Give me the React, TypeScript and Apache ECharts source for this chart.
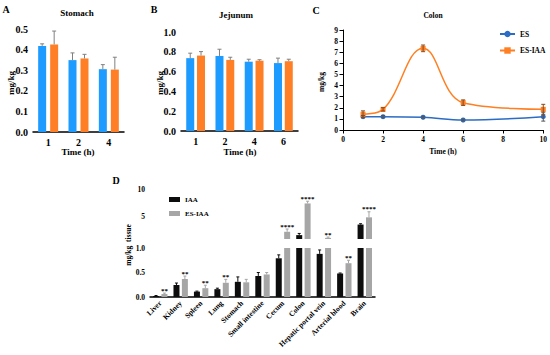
import React, { useEffect, useRef } from "react";
import * as echarts from "echarts";

// ---------- data ----------
const stomachTimes = ["1", "2", "4"];
const stomachES = [0.418, 0.349, 0.305];
const stomachESErr = [0.01, 0.035, 0.022];
const stomachESIAA = [0.425, 0.357, 0.303];
const stomachESIAAErr = [0.065, 0.02, 0.06];

const jejunumTimes = ["1", "2", "4", "6"];
const jejunumES = [0.736, 0.758, 0.7, 0.686];
const jejunumESErr = [0.05, 0.068, 0.025, 0.05];
const jejunumESIAA = [0.762, 0.718, 0.71, 0.705];
const jejunumESIAAErr = [0.04, 0.027, 0.01, 0.02];

const colonTimes = [1, 2, 4, 6, 10];
const colonES = [1.2, 1.2, 1.15, 0.9, 1.2];
const colonESErr = [0.1, 0.1, 0.08, 0.08, 0.4];
const colonESIAA = [1.42, 1.86, 7.35, 2.46, 1.86];
const colonESIAAErr = [0.3, 0.15, 0.3, 0.25, 0.45];

const tissues = [
  "Liver", "Kidney", "Spleen", "Lung", "Stomach", "Small intestine",
  "Cecum", "Colon", "Hepatic portal vein", "Arterial blood", "Brain",
];
const tissueIAA = [0.02, 0.245, 0.11, 0.16, 0.31, 0.43, 0.79, 1.7, 0.88, 0.48, 3.6];
const tissueIAAErr = [0.01, 0.04, 0.01, 0.02, 0.1, 0.07, 0.07, 0.3, 0.08, 0.01, 0.15];
const tissueESIAA = [0.06, 0.367, 0.18, 0.29, 0.3, 0.46, 2.3, 7.4, 1.2, 0.69, 4.9];
const tissueESIAAErr = [0.02, 0.06, 0.06, 0.07, 0.06, 0.04, 0.5, 0.4, 0.15, 0.06, 1.0];
const tissueSig = ["**", "**", "**", "**", "", "", "****", "****", "**", "**", "****"];

const dLowTicks = [0, 0.5, 1];
const dHighLabels = [5, 10];

// ---------- styles ----------
const ff = '"Liberation Serif", "Times New Roman", serif';
const BLUE = "#1E9BFF";
const ORANGE = "#FF7F27";
const ES_LINE = "#2B6CC4";
const ESIAA_LINE = "#FF7F22";
const BLACK = "#0d0d0d";
const GREY = "#a6a6a6";

function errSeries(
  name: string, xi: number, yi: number, pts: number[][], offset: number,
  cap: number, color: string, both: boolean, sig?: string[]
) {
  return {
    type: "custom",
    name,
    xAxisIndex: xi,
    yAxisIndex: yi,
    data: pts,
    z: 5,
    silent: true,
    clip: false,
    encode: { x: 0, y: 1 },
    renderItem: (_params: any, api: any) => {
      const x = api.value(0);
      const v = api.value(1);
      const e = api.value(2);
      const p0 = api.coord([x, v]);
      const p1 = api.coord([x, v + e]);
      const p2 = both ? api.coord([x, v - e]) : p0;
      const cx = p0[0] + offset;
      const st = { stroke: color, lineWidth: 1 };
      const children: any[] = [
        { type: "line", shape: { x1: cx, y1: p2[1], x2: cx, y2: p1[1] }, style: st },
        { type: "line", shape: { x1: cx - cap / 2, y1: p1[1], x2: cx + cap / 2, y2: p1[1] }, style: st },
      ];
      if (both) {
        children.push({ type: "line", shape: { x1: cx - cap / 2, y1: p2[1], x2: cx + cap / 2, y2: p2[1] }, style: st });
      }
      if (sig && sig[x]) {
        children.push({
          type: "text",
          style: {
            text: sig[x], x: cx, y: p1[1] + 1, align: "center", verticalAlign: "bottom",
            font: `bold 7px ${ff}`, fill: "#000",
          },
        });
      }
      return { type: "group", children };
    },
  };
}

function axisBase(fontSize: number, lw: number) {
  return {
    axisLine: { lineStyle: { color: "#000", width: lw } },
    axisTick: { length: 3.5, lineStyle: { color: "#000", width: lw } },
    axisLabel: { color: "#000", fontFamily: ff, fontWeight: "bold", fontSize, margin: 5 },
    splitLine: { show: false },
  };
}

function txt(text: string, x: number, y: number, size: number, rot = 0) {
  return {
    type: "text",
    x,
    y,
    rotation: rot,
    style: {
      text, x: 0, y: 0, align: "center", verticalAlign: "middle",
      font: `bold ${size}px ${ff}`, fill: "#000",
    },
  };
}

export default function App() {
  const ref = useRef<HTMLDivElement>(null);
  useEffect(() => {
    if (!ref.current) return;
    const chart = echarts.init(ref.current, undefined, { renderer: "svg" });
    const idx = (arr: number[]) => arr.map((_, i) => i);

    const option: any = {
      animation: false,
      backgroundColor: "#fff",
      grid: [
        { left: 33, top: 29, width: 91, height: 103 },   // A
        { left: 181, top: 32, width: 117, height: 99 },  // B
        { left: 343, top: 30, width: 201, height: 100 }, // C
        { left: 150, top: 189, width: 225, height: 50 }, // D upper
        { left: 150, top: 248, width: 225, height: 49 }, // D lower
      ],
      xAxis: [
        { gridIndex: 0, type: "category", data: stomachTimes, ...axisBase(10, 1.5),
          axisTick: { alignWithLabel: true, length: 3.5, lineStyle: { color: "#000", width: 1.5 } } },
        { gridIndex: 1, type: "category", data: jejunumTimes, ...axisBase(10, 1.5),
          axisTick: { alignWithLabel: true, length: 3.5, lineStyle: { color: "#000", width: 1.5 } } },
        { gridIndex: 2, type: "value", min: 0, max: 10, interval: 2, ...axisBase(7.5, 1),
          axisLabel: { color: "#000", fontFamily: ff, fontWeight: "bold", fontSize: 7.5, margin: 5 } },
        { gridIndex: 3, type: "category", data: tissues, show: false },
        { gridIndex: 4, type: "category", data: tissues, ...axisBase(7.5, 1.5),
          axisTick: { alignWithLabel: true, length: 3, lineStyle: { color: "#000", width: 1.5 } },
          axisLabel: { color: "#000", fontFamily: ff, fontWeight: "bold", fontSize: 7.5, rotate: 45, margin: 5, interval: 0 } },
      ],
      yAxis: [
        { gridIndex: 0, type: "value", min: 0, max: 0.5, interval: 0.1, ...axisBase(10, 1.5),
          axisLabel: { color: "#000", fontFamily: ff, fontWeight: "bold", fontSize: 10, margin: 5,
            formatter: (v: number) => v.toFixed(1) } },
        { gridIndex: 1, type: "value", min: 0, max: 1, interval: 0.2, ...axisBase(10, 1.5),
          axisLabel: { color: "#000", fontFamily: ff, fontWeight: "bold", fontSize: 10, margin: 5,
            formatter: (v: number) => v.toFixed(1) } },
        { gridIndex: 2, type: "value", min: 0, max: 9, interval: 1, ...axisBase(7.5, 1),
          axisLabel: { color: "#000", fontFamily: ff, fontWeight: "bold", fontSize: 7.5, margin: 5 } },
        { gridIndex: 3, type: "value", min: 1, max: 10, ...axisBase(7.5, 1.5),
          axisTick: { length: 3, lineStyle: { color: "#000", width: 1.5 }, customValues: [1, ...dHighLabels] },
          axisLabel: { color: "#000", fontFamily: ff, fontWeight: "bold", fontSize: 7.5, margin: 5,
            customValues: dHighLabels } },
        { gridIndex: 4, type: "value", min: 0, max: 1, interval: 0.5, ...axisBase(7.5, 1.5),
          axisTick: { length: 3, lineStyle: { color: "#000", width: 1.5 }, customValues: dLowTicks },
          axisLabel: { color: "#000", fontFamily: ff, fontWeight: "bold", fontSize: 7.5, margin: 5,
            customValues: dLowTicks, formatter: (v: number) => v.toFixed(1) } },
      ],
      legend: [
        {
          data: ["ES", "ES-IAA"], orient: "vertical", left: 494, top: 25,
          itemWidth: 15, itemHeight: 8, itemGap: 8.5,
          textStyle: { fontFamily: ff, fontWeight: "bold", fontSize: 7.5, color: "#000" },
        },
        {
          data: ["IAA", "ES-IAA (D)"], orient: "vertical", left: 164, top: 191,
          itemWidth: 11, itemHeight: 5, itemGap: 7, icon: "rect",
          formatter: (n: string) => n.replace(" (D)", ""),
          textStyle: { fontFamily: ff, fontWeight: "bold", fontSize: 7, color: "#000" },
        },
      ],
      series: [
        // A
        { type: "bar", name: "A-ES", xAxisIndex: 0, yAxisIndex: 0, data: stomachES,
          barWidth: 8, barGap: "50%", itemStyle: { color: BLUE } },
        { type: "bar", name: "A-ESIAA", xAxisIndex: 0, yAxisIndex: 0, data: stomachESIAA,
          barWidth: 8, barGap: "50%", itemStyle: { color: ORANGE } },
        errSeries("A-ES-err", 0, 0, stomachES.map((v, i) => [i, v, stomachESErr[i]]), -6, 4, "#808080", false),
        errSeries("A-ESIAA-err", 0, 0, stomachESIAA.map((v, i) => [i, v, stomachESIAAErr[i]]), 6, 4, "#808080", false),
        // B
        { type: "bar", name: "B-ES", xAxisIndex: 1, yAxisIndex: 1, data: jejunumES,
          barWidth: 8, barGap: "35%", itemStyle: { color: BLUE } },
        { type: "bar", name: "B-ESIAA", xAxisIndex: 1, yAxisIndex: 1, data: jejunumESIAA,
          barWidth: 8, barGap: "35%", itemStyle: { color: ORANGE } },
        errSeries("B-ES-err", 1, 1, jejunumES.map((v, i) => [i, v, jejunumESErr[i]]), -5.4, 4, "#808080", false),
        errSeries("B-ESIAA-err", 1, 1, jejunumESIAA.map((v, i) => [i, v, jejunumESIAAErr[i]]), 5.4, 4, "#808080", false),
        // C
        { type: "line", name: "ES", xAxisIndex: 2, yAxisIndex: 2, smooth: 0.4,
          data: colonTimes.map((t, i) => [t, colonES[i]]),
          symbol: "circle", symbolSize: 5, lineStyle: { width: 1.5, color: ES_LINE }, itemStyle: { color: ES_LINE } },
        { type: "line", name: "ES-IAA", xAxisIndex: 2, yAxisIndex: 2, smooth: 0.4,
          data: colonTimes.map((t, i) => [t, colonESIAA[i]]),
          symbol: "rect", symbolSize: 5, lineStyle: { width: 1.5, color: ESIAA_LINE }, itemStyle: { color: ESIAA_LINE } },
        errSeries("C-ES-err", 2, 2, colonTimes.map((t, i) => [t, colonES[i], colonESErr[i]]), 0, 4, "#555", true),
        errSeries("C-ESIAA-err", 2, 2, colonTimes.map((t, i) => [t, colonESIAA[i], colonESIAAErr[i]]), 0, 4, "#8a4a1a", true),
        // D lower
        { type: "bar", name: "IAA", xAxisIndex: 4, yAxisIndex: 4, data: tissueIAA,
          barWidth: 6, barGap: "40%", clip: true, itemStyle: { color: BLACK } },
        { type: "bar", name: "ES-IAA (D)", xAxisIndex: 4, yAxisIndex: 4, data: tissueESIAA,
          barWidth: 6, barGap: "40%", clip: true, itemStyle: { color: GREY } },
        // D upper
        { type: "bar", name: "IAA", xAxisIndex: 3, yAxisIndex: 3,
          data: tissueIAA.map((v) => (v > 1 ? v : "-")),
          barWidth: 6, barGap: "40%", clip: true, itemStyle: { color: BLACK } },
        { type: "bar", name: "ES-IAA (D)", xAxisIndex: 3, yAxisIndex: 3,
          data: tissueESIAA.map((v) => (v > 1 ? v : "-")),
          barWidth: 6, barGap: "40%", clip: true, itemStyle: { color: GREY } },
        errSeries("D-IAA-err-lo", 4, 4,
          idx(tissueIAA).filter((i) => tissueIAA[i] <= 1).map((i) => [i, tissueIAA[i], tissueIAAErr[i]]),
          -4.2, 3, BLACK, false),
        errSeries("D-IAA-err-hi", 3, 3,
          idx(tissueIAA).filter((i) => tissueIAA[i] > 1).map((i) => [i, tissueIAA[i], tissueIAAErr[i]]),
          -4.2, 3, BLACK, false),
        errSeries("D-ESIAA-err-lo", 4, 4,
          idx(tissueESIAA).filter((i) => tissueESIAA[i] <= 1).map((i) => [i, tissueESIAA[i], tissueESIAAErr[i]]),
          4.2, 3, GREY, false, tissueSig),
        errSeries("D-ESIAA-err-hi", 3, 3,
          idx(tissueESIAA).filter((i) => tissueESIAA[i] > 1).map((i) => [i, tissueESIAA[i], tissueESIAAErr[i]]),
          4.2, 3, GREY, false, tissueSig),
      ],
      graphic: [
        txt("A", 6, 9, 10),
        txt("B", 154, 9, 10),
        txt("C", 316, 10, 10),
        txt("D", 116, 180, 10),
        txt("Stomach", 77, 13, 9),
        txt("Jejunum", 236, 15, 9),
        txt("Colon", 433, 15, 7.5),
        txt("Time (h)", 78, 152, 9),
        txt("Time (h)", 240, 152, 9),
        txt("Time (h)", 443, 151, 7.5),
        txt("mg/kg", 11, 83, 9, Math.PI / 2),
        txt("mg/kg", 160, 83, 9, Math.PI / 2),
        txt("mg/kg", 321, 82, 7.5, Math.PI / 2),
        txt("mg/kg  tissue", 128, 245, 7.5, Math.PI / 2),
      ],
    };
    chart.setOption(option);
    return () => chart.dispose();
  }, []);
  return (
    <div
      ref={ref}
      style={{ position: "fixed", left: 0, top: 0, width: 550, height: 355, background: "#fff" }}
    />
  );
}
